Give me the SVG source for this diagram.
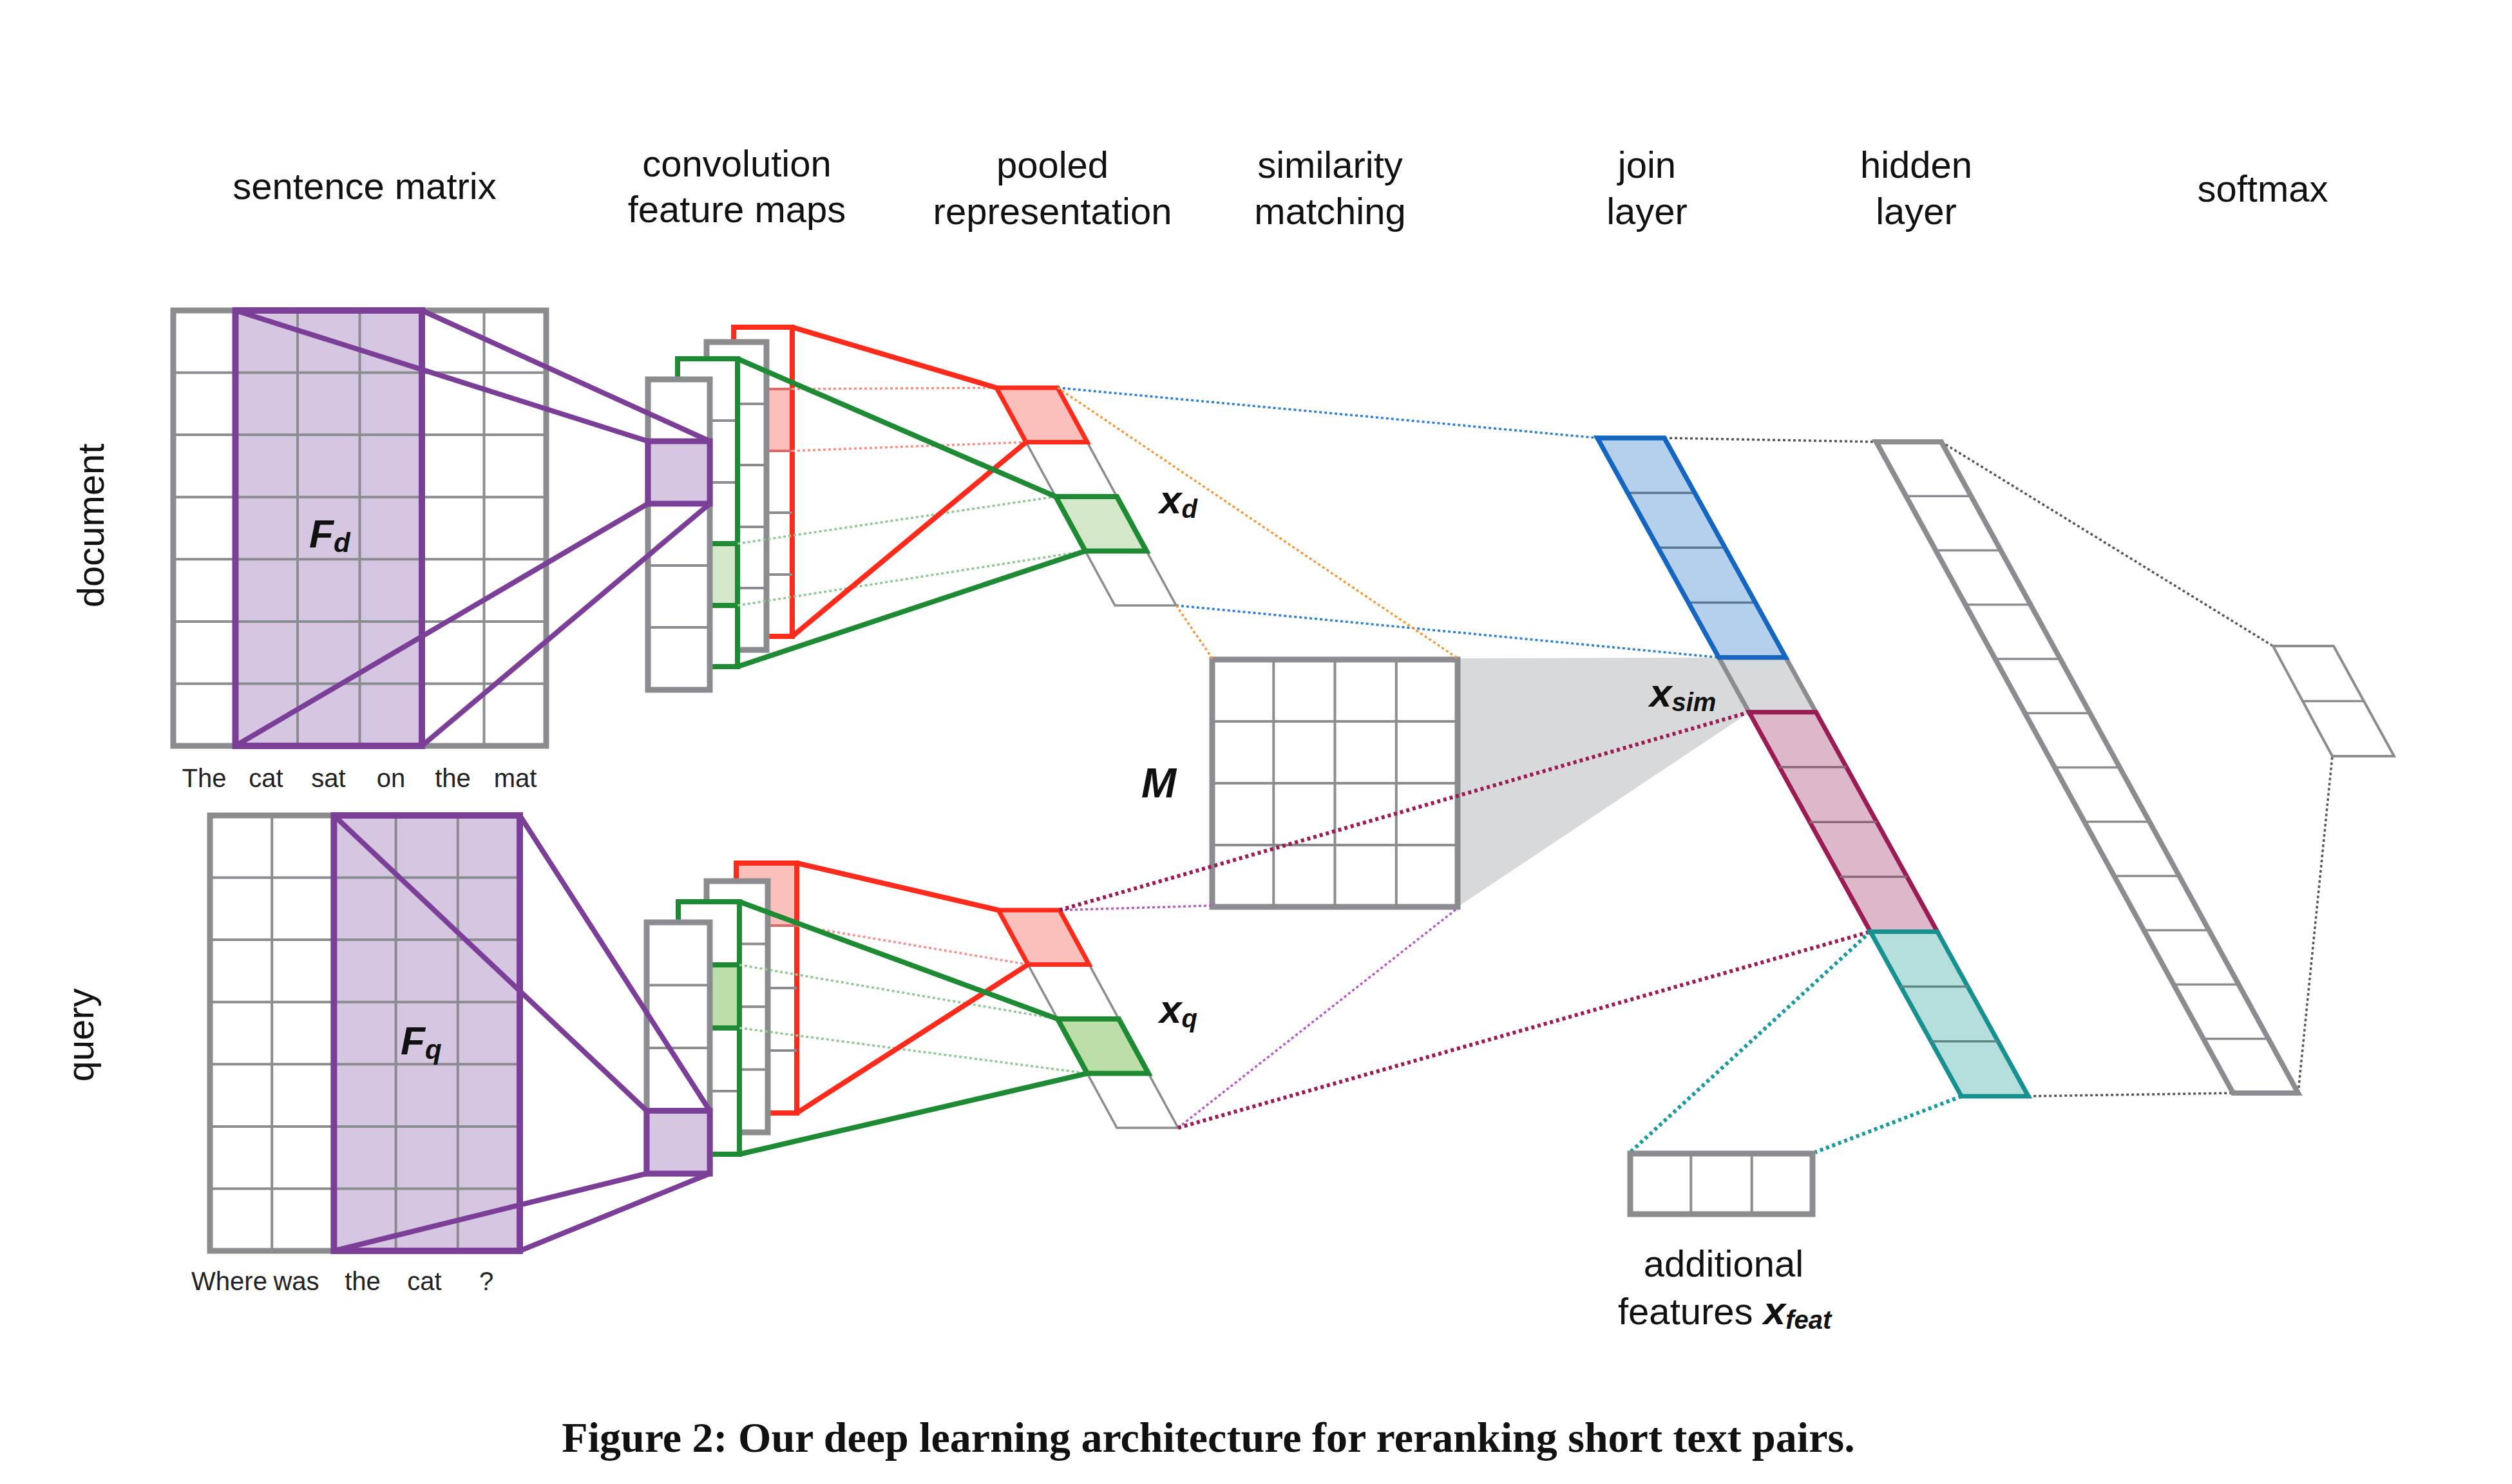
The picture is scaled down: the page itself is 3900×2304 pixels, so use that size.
<svg xmlns="http://www.w3.org/2000/svg" width="3900" height="2304" viewBox="0 0 3900 2304">
<style>
text{font-family:"Liberation Sans",Arial,sans-serif;fill:#111}
.lbl{font-size:58px;text-anchor:middle}
.word{font-size:40px;text-anchor:middle;fill:#222}
.bi{font-weight:bold;font-style:italic}
.cap{font-family:"Liberation Serif","Times New Roman",serif;font-weight:bold;font-size:66px;text-anchor:middle}
.gb{stroke:#8b8c90;stroke-width:9}
.gl{stroke:#8b8c90;stroke-width:4;fill:none}
.gt{fill:none;stroke:#8b8c90;stroke-width:3.5}
.pu{stroke:#7b3f98;stroke-width:8;fill:none}
.puf{fill:#d5c6e1;stroke:#7b3f98;stroke-width:9}
.rd{stroke:#fc2b1c;stroke-width:8;fill:none}
.gr{stroke:#1e8a34;stroke-width:8;fill:none}
.d1{fill:none;stroke-width:3.5;stroke-dasharray:4 4}
.d2{fill:none;stroke-width:6;stroke-dasharray:5 5}
</style>

<g id="labels">
<text class="lbl" x="566" y="309">sentence matrix</text>
<text class="lbl" x="1144" y="274">convolution</text>
<text class="lbl" x="1144" y="345">feature maps</text>
<text class="lbl" x="1634" y="276">pooled</text>
<text class="lbl" x="1634" y="348">representation</text>
<text class="lbl" x="2065" y="276">similarity</text>
<text class="lbl" x="2065" y="348">matching</text>
<text class="lbl" x="2557" y="276">join</text>
<text class="lbl" x="2557" y="348">layer</text>
<text class="lbl" x="2975" y="276">hidden</text>
<text class="lbl" x="2975" y="348">layer</text>
<text class="lbl" x="3513" y="313">softmax</text>
<text class="lbl" transform="translate(161,816) rotate(-90)">document</text>
<text class="lbl" transform="translate(145,1607) rotate(-90)">query</text>
</g>

<g id="doc-matrix">
<rect x="269" y="482" width="579" height="676" fill="#fff"/>
<rect x="365.5" y="482" width="289.5" height="676" fill="#d5c6e1"/>
<path class="gl" d="M365.5 482V1158M462 482V1158M558.5 482V1158M655 482V1158M751.5 482V1158M269 578.6H848M269 675.1H848M269 771.7H848M269 868.3H848M269 964.9H848M269 1061.4H848"/>
<rect class="gb" x="269" y="482" width="579" height="676" fill="none"/>
<rect x="365.5" y="482" width="289.5" height="676" fill="none" stroke="#7b3f98" stroke-width="10"/>
<text class="bi" x="480" y="850" font-size="62">F<tspan font-size="42" dy="7">d</tspan></text>
<text class="word" x="317" y="1222">The</text>
<text class="word" x="413" y="1222">cat</text>
<text class="word" x="510" y="1222">sat</text>
<text class="word" x="607" y="1222">on</text>
<text class="word" x="703" y="1222">the</text>
<text class="word" x="800" y="1222">mat</text>
</g>

<g id="query-matrix">
<rect x="326" y="1266" width="481" height="676" fill="#fff"/>
<rect x="518.4" y="1266" width="288.6" height="676" fill="#d5c6e1"/>
<path class="gl" d="M422.2 1266V1942M518.4 1266V1942M614.6 1266V1942M710.8 1266V1942M326 1362.6H807M326 1459.1H807M326 1555.7H807M326 1652.3H807M326 1748.9H807M326 1845.4H807"/>
<rect class="gb" x="326" y="1266" width="481" height="676" fill="none"/>
<rect x="518.4" y="1266" width="288.6" height="676" fill="none" stroke="#7b3f98" stroke-width="10"/>
<text class="bi" x="622" y="1637" font-size="62">F<tspan font-size="42" dy="7">q</tspan></text>
<text class="word" x="356" y="2003">Where</text>
<text class="word" x="460" y="2003">was</text>
<text class="word" x="563" y="2003">the</text>
<text class="word" x="659" y="2003">cat</text>
<text class="word" x="755" y="2003">?</text>
</g>

<g id="doc-feature-maps">
<rect x="1139" y="508" width="91" height="480" fill="#fff" stroke="#fc2b1c" stroke-width="8"/>
<rect x="1143" y="604" width="83" height="96" fill="#fbc0bc"/>
<path d="M1139 604H1230M1139 700H1230" stroke="#dd6a64" stroke-width="4"/>
<path class="gl" d="M1139 796H1230M1139 892H1230"/>
<rect class="gb" x="1097" y="531" width="93" height="478" fill="#fff"/>
<path class="gl" d="M1097 627H1190M1097 722H1190M1097 818H1190M1097 913H1190"/>
<rect x="1052" y="557" width="93" height="478" fill="#fff" stroke="#1e8a34" stroke-width="8"/>
<path class="gl" d="M1056 653H1141M1056 749H1141"/>
<rect x="1052" y="844" width="93" height="96" fill="#d2e8c8" stroke="#1e8a34" stroke-width="8"/>
<rect class="gb" x="1006" y="589" width="96" height="482" fill="#fff"/>
<path class="gl" d="M1006 878H1102M1006 974H1102"/>
<rect class="puf" x="1006" y="685" width="96" height="97"/>
</g>

<g id="query-feature-maps">
<rect x="1143" y="1340" width="94" height="388" fill="#fff" stroke="#fc2b1c" stroke-width="8"/>
<rect x="1147" y="1344" width="86" height="93" fill="#fbc0bc"/>
<path d="M1143 1437H1237" stroke="#dd6a64" stroke-width="4"/>
<path class="gl" d="M1143 1534H1237M1143 1631H1237"/>
<rect class="gb" x="1097" y="1368" width="95" height="390" fill="#fff"/>
<path class="gl" d="M1097 1465.5H1192M1097 1563H1192M1097 1660.5H1192"/>
<rect x="1053" y="1400" width="95" height="392" fill="#fff" stroke="#1e8a34" stroke-width="8"/>
<path class="gl" d="M1057 1694H1144"/>
<rect x="1053" y="1498" width="95" height="98" fill="#bcdfaa" stroke="#1e8a34" stroke-width="8"/>
<rect class="gb" x="1004" y="1432" width="98" height="390" fill="#fff"/>
<path class="gl" d="M1004 1529.5H1102M1004 1627H1102"/>
<rect class="puf" x="1004" y="1724.5" width="98" height="97.5"/>
</g>

<g id="doc-pooled">
<polygon class="gt" points="1547,602 1642,602 1826,940 1731,940"/>
<path class="gt" d="M1639 771H1734"/>
<polygon points="1547,602 1642,602 1688,686.5 1593,686.5" fill="#fbc0bc" stroke="#fc2b1c" stroke-width="7"/>
<polygon points="1639,771 1734,771 1780,855.5 1685,855.5" fill="#d2e8c8" stroke="#1e8a34" stroke-width="8"/>
<text class="bi" x="1800" y="797" font-size="62">x<tspan font-size="40" dy="7">d</tspan></text>
</g>

<g id="query-pooled">
<polygon class="gt" points="1550,1413 1645,1413 1829,1751 1734,1751"/>
<polygon points="1550,1413 1645,1413 1691,1497.5 1596,1497.5" fill="#fbc0bc" stroke="#fc2b1c" stroke-width="7"/>
<polygon points="1642,1582 1737,1582 1783,1666.5 1688,1666.5" fill="#bcdfaa" stroke="#1e8a34" stroke-width="8"/>
<text class="bi" x="1800" y="1588" font-size="62">x<tspan font-size="40" dy="7">q</tspan></text>
</g>

<g id="similarity-shade">
<polygon points="2263,1022 2669,1021 2716,1106 2263,1408" fill="#d8d9da"/>
</g>

<g id="similarity-matrix">
<rect x="1882" y="1024" width="381" height="384" fill="#fff"/>
<path class="gl" d="M1977.3 1024V1408M2072.5 1024V1408M2167.8 1024V1408M1882 1120H2263M1882 1216H2263M1882 1312H2263"/>
<rect class="gb" x="1882" y="1024" width="381" height="384" fill="none"/>
<text class="bi" x="1772" y="1238" font-size="65">M</text>
</g>

<g id="connectors">
<g class="pu">
<path d="M365.5 482L1006 685M655 482L1102 685M365.5 1158L1006 782M655 1158L1102 782"/>
<path d="M518.4 1266L1004 1724.5M807 1266L1102 1724.5M518.4 1942L1004 1822M807 1942L1102 1822"/>
</g>
<g class="d1" stroke="#f5918b">
<path d="M1230 604L1547 602M1230 700L1593 686.5M1237 1437L1596 1497.5"/>
</g>
<g class="d1" stroke="#8fc692">
<path d="M1145 844L1639 771M1145 940L1685 855.5M1148 1498L1642 1582M1148 1596L1688 1666.5"/>
</g>
<g class="rd">
<path d="M1230 508L1547 602M1230 988L1593 686.5M1237 1340L1550 1413M1237 1728L1596 1497.5"/>
</g>
<g class="gr">
<path d="M1145 557L1639 771M1145 1035L1685 855.5M1148 1400L1642 1582M1148 1792L1688 1666.5"/>
</g>
<g class="d1" stroke="#2f7fd0">
<path d="M1642 602L2480 680M1826 940L2668.4 1020.7"/>
</g>
<g class="d1" stroke="#f49a3e">
<path d="M1642 602L2263 1022M1826 940L1882 1022"/>
</g>
<g class="d1" stroke="#b45ac4">
<path d="M1645 1413L1882 1406M1829 1751L2263 1410"/>
</g>
<g class="d2" stroke="#9b1b55">
<path d="M1645 1413L2715.5 1105.8M1829 1751L2903.9 1446.5"/>
</g>
<g class="d2" stroke="#1a9a9a" stroke-width="5">
<path d="M2903.9 1446.5L2531 1789M3045.2 1702L2818 1789"/>
</g>
<g class="d1" stroke="#555" stroke-width="4">
<path d="M2584 680L2913 686M3014 686L3529 1003M3149.2 1702L3467 1697M3568 1697L3621 1174"/>
</g>
</g>

<g id="join-layer">
<polygon points="2480,680 2584,680 2772.4,1020.7 2668.4,1020.7" fill="#b4d0ec" stroke="#1466c0" stroke-width="7"/>
<path d="M2527.1 765.2H2631.1M2574.2 850.3H2678.2M2621.3 935.5H2725.3" stroke="#5a7896" stroke-width="3.5"/>
<polygon points="2668.4,1020.7 2772.4,1020.7 2819.5,1105.8 2715.5,1105.8" fill="#d8d9da" stroke="#8b8c90" stroke-width="7"/>
<polygon points="2715.5,1105.8 2819.5,1105.8 3007.9,1446.5 2903.9,1446.5" fill="#dcb8ca" stroke="#9b1b55" stroke-width="7"/>
<path d="M2762.6 1191H2866.6M2809.7 1276.2H2913.7M2856.7 1361.3H2960.7" stroke="#8a6878" stroke-width="3.5"/>
<polygon points="2903.9,1446.5 3007.9,1446.5 3149.2,1702 3045.2,1702" fill="#b4dfdd" stroke="#17918f" stroke-width="7"/>
<path d="M2951 1531.7H3055M2998 1616.8H3102" stroke="#5f8584" stroke-width="3.5"/>
<polygon points="2480,680 2584,680 2772.4,1020.7 2668.4,1020.7" fill="none" stroke="#1466c0" stroke-width="7"/>
<text class="bi" x="2561" y="1097" font-size="62">x<tspan font-size="40" dy="7">sim</tspan></text>
</g>

<g id="hidden-layer">
<polygon points="2913,686 3014,686 3568,1697 3467,1697" fill="#fff" stroke="#8b8c90" stroke-width="8"/>
<path class="gt" d="M2959.2 770.3H3060.2M3005.3 854.5H3106.3M3051.5 938.8H3152.5M3097.7 1023H3198.7M3143.9 1107.3H3244.9M3190 1191.5H3291M3236.2 1275.8H3337.2M3282.4 1360H3383.4M3328.5 1444.3H3429.5M3374.7 1528.5H3475.7M3420.9 1612.8H3521.9"/>
</g>

<g id="softmax">
<polygon points="3529,1003 3623,1003 3717,1174 3621,1174" fill="#fff" stroke="#8b8c90" stroke-width="4"/>
<path class="gt" d="M3575 1088.5H3670"/>
</g>

<g id="additional-features">
<rect class="gb" x="2531" y="1791" width="283" height="94" fill="#fff"/>
<path class="gl" d="M2625.3 1791V1885M2719.7 1791V1885"/>
<text class="lbl" x="2676" y="1982">additional</text>
<text x="2512" y="2056" font-size="58">features <tspan class="bi" font-size="62">x</tspan><tspan class="bi" font-size="40" dy="7">feat</tspan></text>
</g>

<g id="caption">
<text class="cap" x="1876" y="2254">Figure 2: Our deep learning architecture for reranking short text pairs.</text>
</g>
</svg>
